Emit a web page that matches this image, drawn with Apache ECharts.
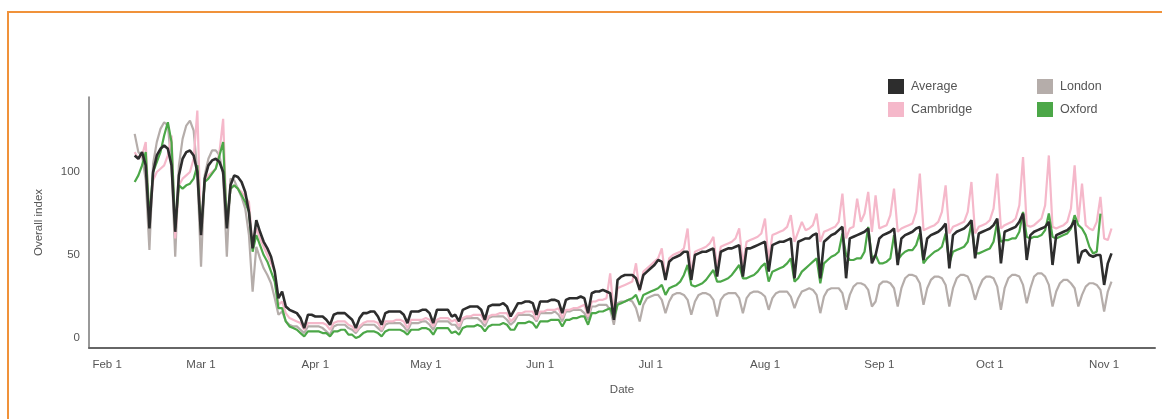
<!DOCTYPE html>
<html>
<head>
<meta charset="utf-8">
<script src="https://cdn.jsdelivr.net/npm/echarts@6/dist/echarts.min.js"></script>
<style>
  html, body { margin: 0; padding: 0; background: #fff; }
  #chart { width: 1162px; height: 419px; }
  #frame { position: absolute; left: 7px; top: 11px; width: 1170px; height: 430px;
           border-left: 2px solid #f0923a; border-top: 2px solid #f0923a; pointer-events: none; }
</style>
</head>
<body>
<div id="chart"></div>
<div id="frame"></div>
<script>
// Day offsets are counted from Feb 1 (day 0). Series begin on Feb 12 (day 11).
const START_DAY = 11;
const TICK_DAYS = [0, 29, 60, 90, 121, 151, 182, 213, 243, 274];
const TICK_LABELS = ['Feb 1', 'Mar 1', 'Apr 1', 'May 1', 'Jun 1', 'Jul 1', 'Aug 1', 'Sep 1', 'Oct 1', 'Nov 1'];
const Y_TICKS = [0, 50, 100];
const SERIES_NAMES = ['Average', 'London', 'Cambridge', 'Oxford'];

// One row per week (Mon..Sun); first row starts on Wed Feb 12
const average = [
  110,108,112,104,66,
  100,110,114,116,114,104,64,
  98,108,112,113,110,100,62,
  96,104,107,108,106,100,66,
  92,98,97,94,88,76,54,
  71,64,58,54,49,40,24,
  28,19,17,16,15,12,6,
  14,14,13,13,13,11,8,
  14,15,15,15,13,11,6,
  12,15,15,16,16,13,8,
  15,16,16,16,16,14,9,
  16,16,16,17,17,15,9,
  17,17,17,17,13,14,10,
  17,18,19,19,19,17,11,
  19,20,20,20,21,19,13,
  17,21,21,22,22,21,14,
  22,22,22,23,23,22,15,
  23,24,24,24,25,24,15,
  27,28,28,29,28,27,11,
  35,37,38,38,38,36,29,
  38,40,42,44,47,46,35,
  46,48,49,50,52,52,35,
  50,51,52,52,53,54,37,
  52,53,54,54,55,56,37,
  54,54,55,56,57,58,40,
  56,57,58,58,59,60,36,
  58,59,60,60,62,63,36,
  58,60,62,63,65,67,36,
  60,61,62,63,64,66,45,
  50,60,62,63,64,66,44,
  60,62,63,64,66,67,47,
  60,62,63,64,66,69,42,
  62,64,65,66,68,71,48,
  63,64,65,66,68,72,45,
  64,65,66,67,70,75,47,
  62,64,65,66,67,70,44,
  62,63,64,65,67,71,45,
  52,53,50,49,50,50,32,
  45,51
];

const london = [
  123,112,110,95,53,
  105,118,126,130,128,105,49,
  104,120,128,131,125,100,43,
  98,108,113,113,110,98,49,
  96,95,90,85,78,62,28,
  55,48,42,38,33,24,14,
  16,10,8,7,7,5,3,
  7,7,7,7,6,4,2,
  7,8,8,8,6,5,3,
  6,8,8,8,8,6,4,
  8,9,9,9,9,7,4,
  9,9,9,10,10,8,5,
  10,10,10,10,8,8,5,
  11,12,12,12,12,10,7,
  12,13,13,13,13,11,8,
  10,14,14,14,14,13,10,
  15,15,15,15,16,14,10,
  16,16,17,17,17,15,11,
  19,19,20,20,20,17,8,
  21,22,22,23,22,18,10,
  20,24,25,26,26,23,15,
  22,26,27,27,26,23,14,
  22,26,27,27,26,23,13,
  23,26,27,27,27,24,15,
  24,27,28,28,27,25,17,
  24,27,28,28,28,25,18,
  24,28,29,30,29,26,15,
  25,29,30,30,30,27,17,
  26,31,33,33,32,29,19,
  22,32,34,34,33,30,19,
  30,36,38,38,37,33,20,
  30,35,37,37,36,32,19,
  30,36,38,38,37,32,23,
  30,35,37,37,36,31,17,
  30,36,38,38,37,32,21,
  30,37,39,39,37,32,19,
  28,33,35,35,33,30,19,
  26,31,33,33,32,29,16,
  28,34
];

const cambridge = [
  112,108,110,118,70,
  95,100,102,104,110,122,60,
  92,96,98,100,108,137,62,
  95,98,100,102,112,132,68,
  90,92,90,88,85,82,55,
  66,60,55,50,45,40,20,
  22,15,12,11,10,9,5,
  9,9,9,9,9,8,5,
  9,10,10,10,8,7,4,
  7,9,10,10,10,9,5,
  10,10,10,11,11,10,6,
  11,11,11,11,12,11,7,
  11,12,12,12,10,11,7,
  12,13,13,14,14,14,9,
  13,14,14,15,15,15,10,
  12,15,15,16,16,16,11,
  16,16,17,17,17,18,12,
  17,17,18,18,19,20,13,
  22,22,23,23,24,39,14,
  30,31,32,33,34,45,28,
  40,42,44,46,48,54,36,
  48,50,51,52,54,66,38,
  52,53,54,55,57,61,42,
  55,56,57,58,60,66,44,
  58,59,60,61,63,72,46,
  62,63,64,65,67,74,58,
  64,70,65,66,68,75,58,
  64,65,66,67,70,87,60,
  66,67,84,70,75,88,64,
  86,66,67,68,74,90,64,
  66,67,68,69,76,99,65,
  66,67,68,70,76,92,63,
  67,68,69,70,76,94,63,
  67,68,69,71,78,99,66,
  68,69,70,72,80,109,68,
  67,68,70,72,80,110,67,
  66,67,68,70,78,104,70,
  93,68,66,65,70,85,60,
  59,66
];

const oxford = [
  94,98,104,112,72,
  100,106,112,122,130,118,66,
  92,90,92,93,96,104,64,
  94,96,99,102,110,118,68,
  90,92,90,86,82,76,52,
  62,56,50,46,40,34,18,
  18,10,7,6,5,3,1,
  4,4,4,4,3,3,1,
  4,4,5,5,2,2,0,
  1,3,4,4,4,3,1,
  4,5,5,5,5,4,2,
  5,5,5,6,6,5,2,
  6,6,6,6,3,4,2,
  6,7,7,7,8,7,4,
  7,8,8,8,9,8,5,
  5,9,9,9,10,9,6,
  10,10,10,11,11,11,7,
  11,11,12,12,13,13,8,
  15,15,16,16,17,18,12,
  20,21,22,23,24,26,20,
  26,27,28,29,30,32,26,
  30,31,32,34,38,44,32,
  31,32,33,35,38,41,34,
  34,35,36,38,41,44,36,
  36,37,38,40,43,45,34,
  40,41,42,43,45,48,34,
  36,40,42,44,46,48,33,
  45,47,49,50,52,63,50,
  47,47,48,48,52,67,48,
  50,45,45,46,48,62,47,
  50,52,53,53,56,63,45,
  48,50,52,53,55,63,45,
  52,53,54,55,58,69,51,
  51,52,53,54,58,70,58,
  59,59,60,60,64,76,61,
  60,61,61,62,65,75,61,
  60,61,62,63,66,74,68,
  66,62,55,51,52,75
];

function toPairs(arr) { return arr.map((v, i) => [START_DAY + i, v]); }

const chart = echarts.init(document.getElementById('chart'), null, { renderer: 'canvas' });
const FONT = '"Liberation Sans", Arial, sans-serif';
const labelColor = '#555';

function lineSeries(name, data, color, width, z) {
  return {
    name: name, type: 'line', data: toPairs(data), showSymbol: false, symbol: 'none',
    lineStyle: { color: color, width: width }, itemStyle: { color: color },
    z: z, animation: false
  };
}

chart.setOption({
  animation: false,
  backgroundColor: '#fff',
  textStyle: { fontFamily: FONT },
  grid: { left: 89, right: 7, top: 97, bottom: 71, containLabel: false, outerBoundsMode: 'none' },
  legend: [
    { left: 883, top: 74, orient: 'vertical', icon: 'rect', itemWidth: 16, itemHeight: 15, itemGap: 8,
      data: ['Average', 'Cambridge'],
      textStyle: { color: labelColor, fontSize: 12.5, fontFamily: FONT, padding: [0, 0, 0, 2] } },
    { left: 1032, top: 74, orient: 'vertical', icon: 'rect', itemWidth: 16, itemHeight: 15, itemGap: 8,
      data: ['London', 'Oxford'],
      textStyle: { color: labelColor, fontSize: 12.5, fontFamily: FONT, padding: [0, 0, 0, 2] } }
  ],
  xAxis: {
    type: 'value', min: -1.39, max: 287.8,
    name: 'Date', nameLocation: 'middle', nameGap: 36,
    nameTextStyle: { color: labelColor, fontSize: 11.5, fontFamily: FONT },
    axisLine: { show: true, onZero: false, lineStyle: { color: '#666', width: 2 } },
    axisTick: { show: false },
    splitLine: { show: false },
    axisLabel: {
      customValues: TICK_DAYS, margin: 11, color: labelColor, fontSize: 11.5, fontFamily: FONT,
      formatter: function (v) {
        const i = TICK_DAYS.indexOf(Math.round(v));
        if (i < 0) return '';
        return i === 0 ? '{first|' + TICK_LABELS[i] + '}' : TICK_LABELS[i];
      },
      rich: { first: { padding: [0, 0, 0, 26], color: labelColor, fontSize: 11.5, fontFamily: FONT } }
    }
  },
  yAxis: {
    type: 'value', min: -6, max: 145.2,
    name: 'Overall index', nameLocation: 'middle', nameGap: 44, nameRotate: 90,
    nameTextStyle: { color: labelColor, fontSize: 11.5, fontFamily: FONT },
    axisLine: { show: true, onZero: false, lineStyle: { color: '#777', width: 1.5 } },
    axisTick: { show: false },
    splitLine: { show: false },
    axisLabel: { customValues: Y_TICKS, margin: 9, color: labelColor, fontSize: 11.5, fontFamily: FONT }
  },
  series: [
    lineSeries(SERIES_NAMES[1], london, '#b5adaa', 2.2, 2),
    lineSeries(SERIES_NAMES[2], cambridge, '#f5b8ca', 2.2, 3),
    lineSeries(SERIES_NAMES[3], oxford, '#4ca748', 2.2, 4),
    lineSeries(SERIES_NAMES[0], average, '#2d2d2d', 2.6, 5)
  ]
});
</script>
</body>
</html>
